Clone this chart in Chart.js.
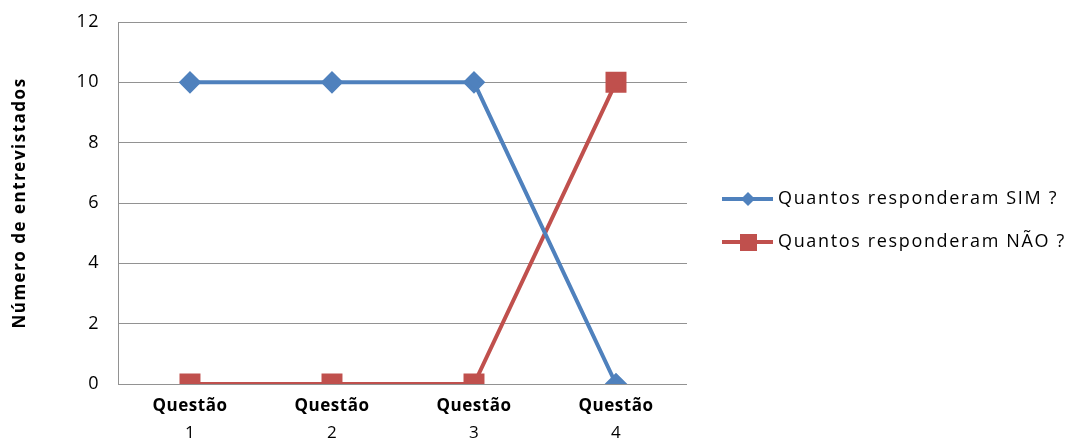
<!DOCTYPE html>
<html>
<head>
<meta charset="utf-8">
<script src="https://cdn.jsdelivr.net/npm/chart.js@4/dist/chart.umd.min.js"></script>
<style>
  html, body { margin: 0; padding: 0; background: #fff; }
  #wrap { width: 1076px; height: 441px; }
</style>
</head>
<body>
<div id="wrap"><canvas id="chart" width="1076" height="441"></canvas></div>
<script>
// data
const categories = ['Questão 1', 'Questão 2', 'Questão 3', 'Questão 4'];
const simValues = [10, 10, 10, 0];
const naoValues = [0, 0, 0, 10];
const seriesNames = ['Quantos responderam SIM ?', 'Quantos responderam NÃO ?'];
const yTicks = [0, 2, 4, 6, 8, 10, 12];

const FONT = '"Open Sans", "Noto Sans", sans-serif';
const BLUE = '#4f81bd';
const RED = '#c0504d';
const GRID = '#929292';

// wider letter spacing, closer to the original rendering
const spacing = {
    id: 'spacing',
    beforeDraw(chart) {
        chart.ctx.letterSpacing = '1.5px';
    }
};

// draws the two-line category labels ("Questão" bold, number normal)
const categoryLabels = {
    id: 'categoryLabels',
    afterDraw(chart) {
        const ctx = chart.ctx;
        const xScale = chart.scales.x;
        const bottom = chart.chartArea.bottom;
        ctx.save();
        ctx.fillStyle = '#000';
        ctx.textAlign = 'center';
        ctx.textBaseline = 'middle';
        ctx.letterSpacing = '0.5px';
        categories.forEach(function(label, i) {
            const x = xScale.getPixelForTick(i);
            const parts = label.split(' ');
            ctx.font = 'bold 17px ' + FONT;
            ctx.fillText(parts[0], x, bottom + 22);
            ctx.font = '17px ' + FONT;
            ctx.fillText(parts[1], x, bottom + 49);
        });
        ctx.restore();
    }
};

// legend on the right: line with marker, then the series name
const sideLegend = {
    id: 'sideLegend',
    afterDraw(chart) {
        const ctx = chart.ctx;
        const left = chart.chartArea.right + 35;
        const rows = [199, 242];
        ctx.save();
        chart.data.datasets.forEach(function(ds, i) {
            const y = rows[i];
            ctx.strokeStyle = ds.borderColor;
            ctx.lineWidth = 4;
            ctx.beginPath();
            ctx.moveTo(left, y);
            ctx.lineTo(left + 51, y);
            ctx.stroke();
            ctx.fillStyle = ds.borderColor;
            const cx = left + 26;
            if (ds.pointStyle === 'rectRot') {
                ctx.beginPath();
                ctx.moveTo(cx, y - 7);
                ctx.lineTo(cx + 7, y);
                ctx.lineTo(cx, y + 7);
                ctx.lineTo(cx - 7, y);
                ctx.closePath();
                ctx.fill();
            } else {
                ctx.fillRect(cx - 8, y - 8, 17, 17);
            }
            ctx.fillStyle = '#000';
            ctx.font = '18px ' + FONT;
            ctx.letterSpacing = '1.65px';
            ctx.textAlign = 'left';
            ctx.textBaseline = 'middle';
            ctx.fillText(ds.label, left + 56, y);
        });
        ctx.restore();
    }
};

new Chart(document.getElementById('chart'), {
    type: 'line',
    data: {
        labels: categories,
        datasets: [
            {
                label: seriesNames[0],
                data: simValues,
                borderColor: BLUE,
                backgroundColor: BLUE,
                borderWidth: 4,
                pointStyle: 'rectRot',
                pointRadius: 8.5,
                pointHoverRadius: 8.5,
                tension: 0
            },
            {
                label: seriesNames[1],
                data: naoValues,
                borderColor: RED,
                backgroundColor: RED,
                borderWidth: 4,
                pointStyle: 'rect',
                pointRadius: 12,
                pointHoverRadius: 12,
                tension: 0
            }
        ]
    },
    options: {
        responsive: false,
        animation: false,
        layout: {
            padding: { left: 10, right: 389, top: 22, bottom: 49 }
        },
        plugins: {
            legend: { display: false },
            tooltip: { enabled: false }
        },
        scales: {
            x: {
                offset: true,
                grid: { display: false },
                border: { display: false },
                ticks: { display: false }
            },
            y: {
                min: 0,
                max: 12,
                afterBuildTicks(axis) {
                    axis.ticks = yTicks.map(v => ({ value: v }));
                },
                grid: {
                    color: GRID,
                    lineWidth: 1,
                    drawTicks: true,
                    tickLength: 19,
                    tickColor: 'rgba(0,0,0,0)'
                },
                border: { display: true, color: GRID, width: 1 },
                ticks: {
                    color: '#000',
                    padding: 0,
                    font: { family: FONT, size: 18 }
                },
                title: {
                    display: true,
                    text: 'Número de entrevistados',
                    color: '#000',
                    padding: { top: 0, bottom: 49 },
                    font: { family: FONT, size: 17, weight: 'bold' }
                }
            }
        }
    },
    plugins: [spacing, categoryLabels, sideLegend]
});
</script>
</body>
</html>
